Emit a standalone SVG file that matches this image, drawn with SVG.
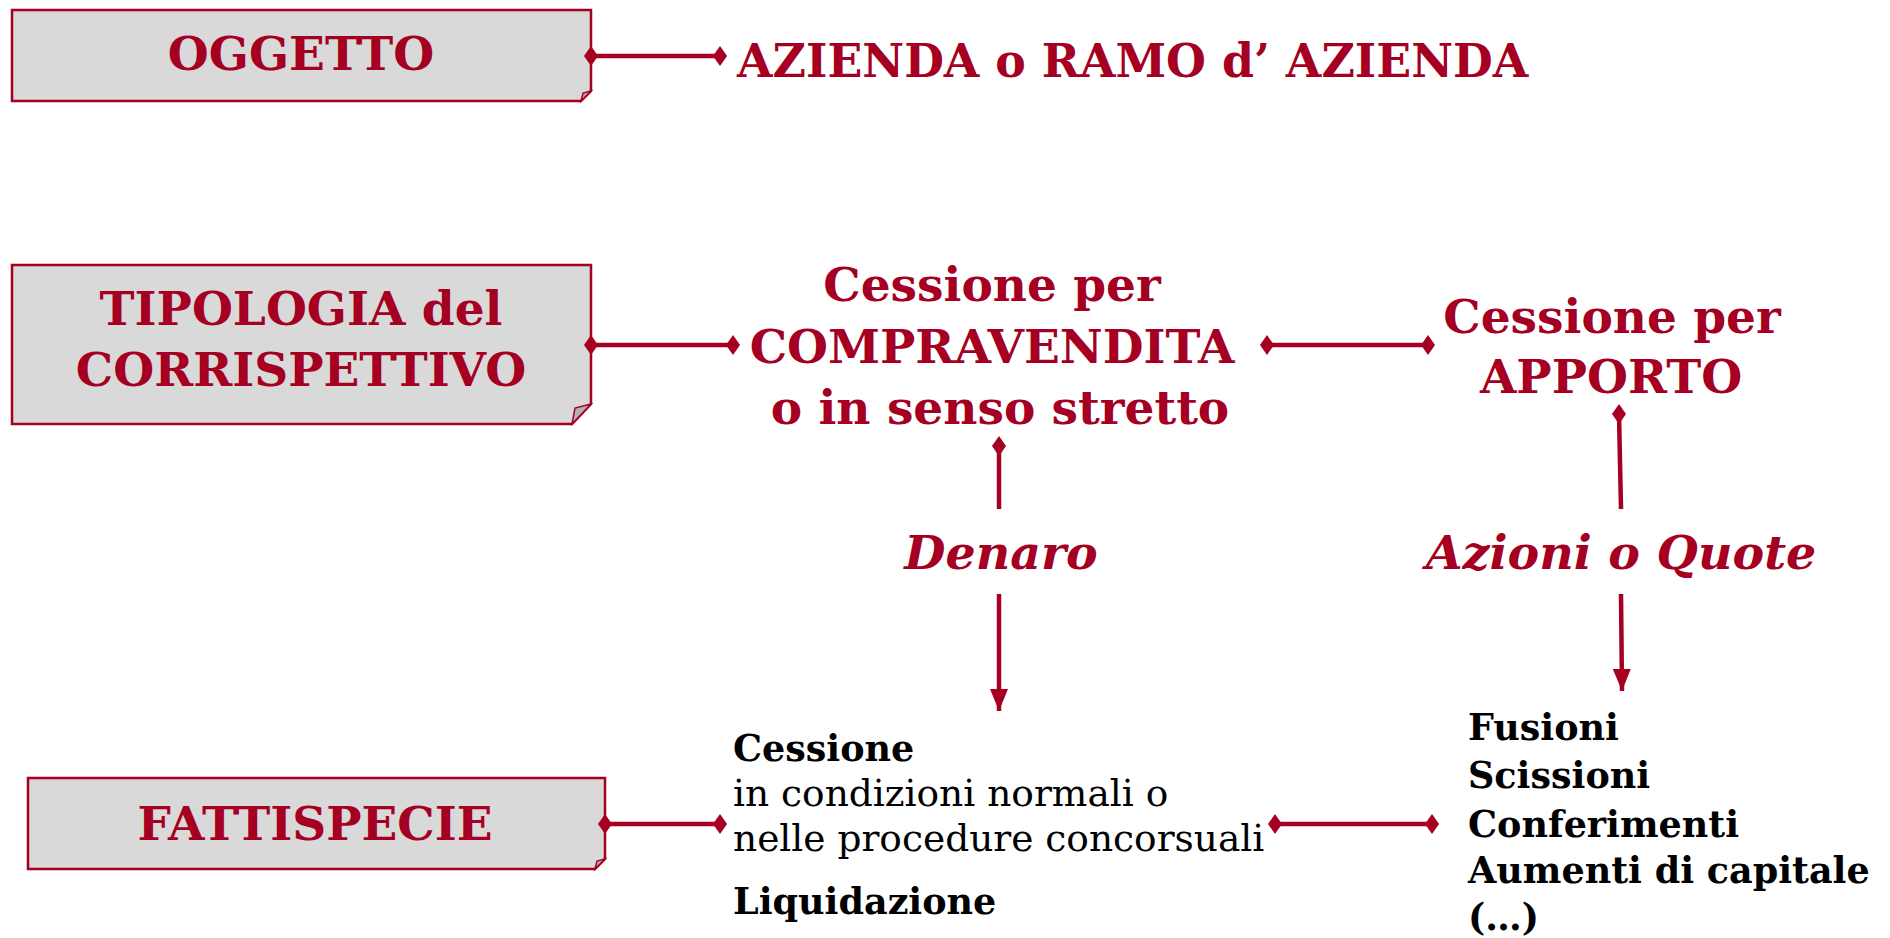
<svg xmlns="http://www.w3.org/2000/svg" width="1890" height="938" viewBox="0 0 1890 938">
<style>
.box{fill:#d9d9d9;stroke:#a50021;stroke-width:2.5}
.flap{fill:#b3b3b3;stroke:#a50021;stroke-width:1.5}
.t{font-family:"DejaVu Serif","Liberation Serif",serif;font-weight:bold;fill:#a50021;font-size:47px}
.ti{font-family:"DejaVu Serif","Liberation Serif",serif;font-weight:bold;font-style:italic;fill:#a50021;font-size:47.5px}
.b{font-family:"DejaVu Serif","Liberation Serif",serif;font-weight:bold;fill:#000;font-size:36.5px}
.r{font-family:"DejaVu Serif","Liberation Serif",serif;fill:#000;font-size:37.5px}
.c{text-anchor:middle}
.ln{stroke:#a50021;stroke-width:4.5;fill:none}
.d{marker-start:url(#dia);marker-end:url(#dia)}
</style>
<defs>
<marker id="dia" markerUnits="userSpaceOnUse" markerWidth="24" markerHeight="24" viewBox="-12 -12 24 24" refX="0" refY="0" orient="0" overflow="visible">
<path d="M0,-10 L7,0 L0,10 L-7,0 Z" fill="#a50021"/>
</marker>
<marker id="arr" markerUnits="userSpaceOnUse" markerWidth="28" markerHeight="28" viewBox="-24 -12 28 24" refX="0" refY="0" orient="auto" overflow="visible">
<path d="M-22,-9 L0,0 L-22,9 Z" fill="#a50021"/>
</marker>
</defs>

<g id="oggetto">
<path class="box" d="M12,10 H591 V91 L581,101 H12 Z"/>
<path class="flap" d="M591,91 L583,93 L581,101 Z"/>
<text class="t c" x="301" y="70">OGGETTO</text>
</g>

<g id="azienda">
<text class="t" x="737" y="77" style="font-size:45.8px">AZIENDA o RAMO d’ AZIENDA</text>
</g>

<g id="tipologia">
<path class="box" d="M12,265 H591 V404 L572,424 H12 Z"/>
<path class="flap" d="M591,404 L575,408 L572,424 Z"/>
<text class="t c" x="301" y="325">TIPOLOGIA del</text>
<text class="t c" x="301" y="386">CORRISPETTIVO</text>
</g>

<g id="compravendita">
<text class="t c" x="992" y="301">Cessione per</text>
<text class="t c" x="992" y="363">COMPRAVENDITA</text>
<text class="t c" x="1000" y="424">o in senso stretto</text>
</g>

<g id="apporto">
<text class="t c" x="1612" y="333">Cessione per</text>
<text class="t c" x="1611" y="393">APPORTO</text>
</g>

<g id="denaro">
<text class="ti c" x="1001" y="569">Denaro</text>
</g>

<g id="azioni">
<text class="ti c" x="1621" y="569">Azioni o Quote</text>
</g>

<g id="fattispecie">
<path class="box" d="M28,778 H605 V859 L595,869 H28 Z"/>
<path class="flap" d="M605,859 L597,861 L595,869 Z"/>
<text class="t c" x="315" y="840">FATTISPECIE</text>
</g>

<g id="cessione">
<text class="b" x="733" y="761">Cessione</text>
<text class="r" x="733" y="806">in condizioni normali o</text>
<text class="r" x="733" y="851">nelle procedure concorsuali</text>
<text class="b" x="733" y="914">Liquidazione</text>
</g>

<g id="fusioni">
<text class="b" x="1468" y="740">Fusioni</text>
<text class="b" x="1468" y="788">Scissioni</text>
<text class="b" x="1468" y="837">Conferimenti</text>
<text class="b" x="1468" y="883">Aumenti di capitale</text>
<text class="b" x="1468" y="930">(…)</text>
</g>

<g id="connectors">
<path class="ln d" d="M591,56 H720"/>
<path class="ln d" d="M591,345 H733"/>
<path class="ln d" d="M1267,345 H1428"/>
<path class="ln" d="M999,509 V446" marker-end="url(#dia)"/>
<path class="ln" d="M999,594 V711" marker-end="url(#arr)"/>
<path class="ln" d="M1621,509 L1619,414" marker-end="url(#dia)"/>
<path class="ln" d="M1621,594 L1622,691" marker-end="url(#arr)"/>
<path class="ln d" d="M605,824 H720"/>
<path class="ln d" d="M1275,824 H1432"/>
</g>
</svg>
